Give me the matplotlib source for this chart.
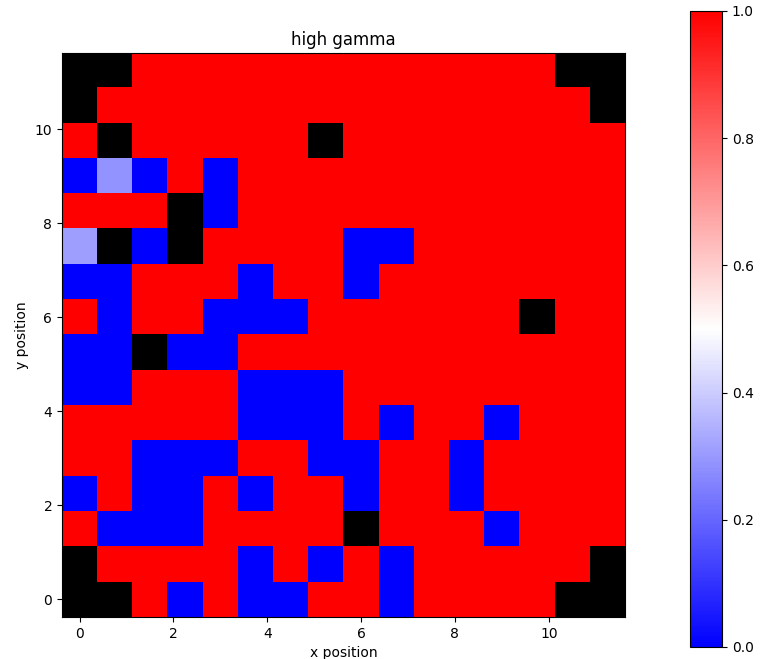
import matplotlib
matplotlib.use('Agg')
import matplotlib.pyplot as plt
import numpy as np

n = np.nan
# grille 16x16, lue de haut en bas (nan = case noire)
rows = [
    [n, n, 1, 1, 1, 1, 1, 1, 1, 1, 1, 1, 1, 1, n, n],
    [n, 1, 1, 1, 1, 1, 1, 1, 1, 1, 1, 1, 1, 1, 1, n],
    [1, n, 1, 1, 1, 1, 1, n, 1, 1, 1, 1, 1, 1, 1, 1],
    [0, .29, 0, 1, 0, 1, 1, 1, 1, 1, 1, 1, 1, 1, 1, 1],
    [1, 1, 1, n, 0, 1, 1, 1, 1, 1, 1, 1, 1, 1, 1, 1],
    [.31, n, 0, n, 1, 1, 1, 1, 0, 0, 1, 1, 1, 1, 1, 1],
    [0, 0, 1, 1, 1, 0, 1, 1, 0, 1, 1, 1, 1, 1, 1, 1],
    [1, 0, 1, 1, 0, 0, 0, 1, 1, 1, 1, 1, 1, n, 1, 1],
    [0, 0, n, 0, 0, 1, 1, 1, 1, 1, 1, 1, 1, 1, 1, 1],
    [0, 0, 1, 1, 1, 0, 0, 0, 1, 1, 1, 1, 1, 1, 1, 1],
    [1, 1, 1, 1, 1, 0, 0, 0, 1, 0, 1, 1, 0, 1, 1, 1],
    [1, 1, 0, 0, 0, 1, 1, 0, 0, 1, 1, 0, 1, 1, 1, 1],
    [0, 1, 0, 0, 1, 0, 1, 1, 0, 1, 1, 0, 1, 1, 1, 1],
    [1, 0, 0, 0, 1, 1, 1, 1, n, 1, 1, 1, 0, 1, 1, 1],
    [n, 1, 1, 1, 1, 0, 1, 0, 1, 0, 1, 1, 1, 1, 1, n],
    [n, n, 1, 0, 1, 0, 0, 1, 1, 0, 1, 1, 1, 1, n, n],
]
grid = np.array(rows, dtype=float)

cmap = plt.cm.bwr.copy()
cmap.set_bad('black')

fig = plt.figure(figsize=(7.63, 6.59), dpi=100)
ax = fig.add_axes([62/763, 42/659, 563/763, 564/659])
cax = fig.add_axes([690/763, 12/659, 32/763, 636/659])

im = ax.imshow(grid, cmap=cmap, vmin=0, vmax=1, origin='upper',
               extent=(-0.375, 11.625, -0.375, 11.625), aspect='auto')
ax.set_xticks([0, 2, 4, 6, 8, 10])
ax.set_yticks([0, 2, 4, 6, 8, 10])
ax.set_title('high gamma')
ax.set_xlabel('x position')
ax.set_ylabel('y position')
fig.colorbar(im, cax=cax)

plt.savefig('out.png')
